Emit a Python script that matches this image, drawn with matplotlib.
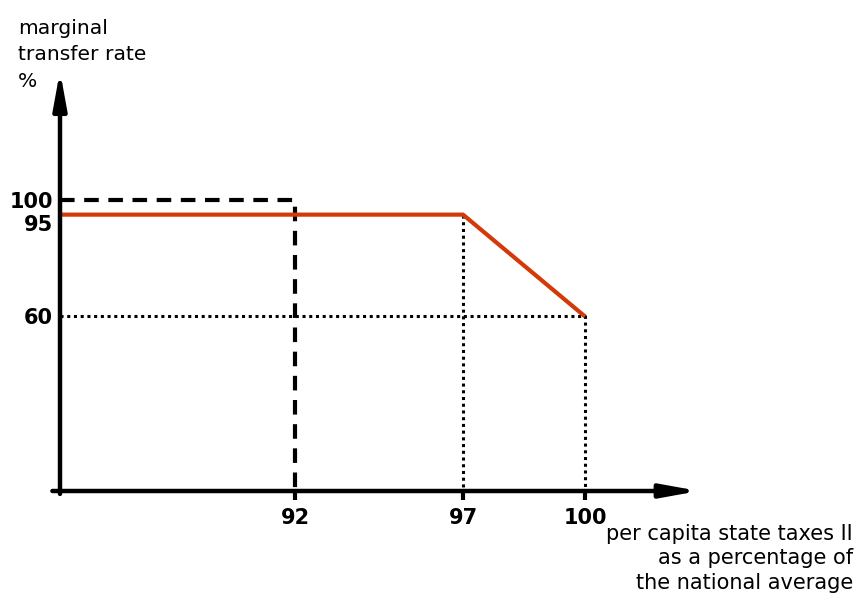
# plot.py
# Schematic of the marginal transfer rate vs per capita state taxes.

import numpy as np
import matplotlib.pyplot as plt
import matplotlib.transforms as mtransforms

# data
x_axis_start = 85          # where the y axis crosses the x axis (schematic)
x_axis_end = 102.7
y_axis_end = 143

rate_x = [85, 97, 100]     # red curve
rate_y = [95, 95, 60]

dashed_x = [85, 92, 92]    # 100% guide down to 92
dashed_y = [100, 100, 0]

dot_97_x = [97, 97]
dot_97_y = [95, 0]
dot_60_x = [85, 100, 100]
dot_60_y = [60, 60, 0]

x_ticks = [92, 97, 100]
y_ticks = [100, 95, 60]

# the reference axis is schematic, not evenly spaced
scale_data = [85, 92, 97, 100, 102.7]
scale_px = [0, 235, 403, 525, 635]


def forward(x):
    return np.interp(x, scale_data, scale_px)


def inverse(p):
    return np.interp(p, scale_px, scale_data)


W, H = 858, 610
fig = plt.figure(figsize=(W / 100, H / 100), dpi=100)
ax = fig.add_axes([60 / W, (H - 491) / H, 635 / W, (491 - 75) / H])
ax.set_xscale('function', functions=(forward, inverse))
ax.set_xlim(x_axis_start, x_axis_end)
ax.set_ylim(0, y_axis_end)

for s in ax.spines.values():
    s.set_visible(False)

red = '#d33a0a'
ax.plot(rate_x, rate_y, color=red, lw=3, solid_capstyle='butt', zorder=4)
ax.plot(dashed_x, dashed_y, color='black', lw=3, ls=(0, (3.5, 2.3)), zorder=3)
ax.plot(dot_97_x, dot_97_y, color='black', lw=2.2, ls=(0, (1, 1.2)), zorder=3)
ax.plot(dot_60_x, dot_60_y, color='black', lw=2.2, ls=(0, (1, 1.2)), zorder=3)

# axes with arrows
arrow = dict(arrowstyle='-|>,head_length=1.1,head_width=0.2', lw=3.2,
             color='black', shrinkA=0, shrinkB=0, mutation_scale=20)
ax.annotate('', xy=(1.006, 0), xytext=(-0.012, 0), xycoords='axes fraction',
            arrowprops=arrow, zorder=5)
ax.annotate('', xy=(0, 1.01), xytext=(0, -0.007), xycoords='axes fraction',
            arrowprops=arrow, zorder=5)

ax.set_xticks(x_ticks)
ax.set_xticklabels([str(v) for v in x_ticks], fontsize=15, fontweight='bold')
ax.set_yticks(y_ticks)
ax.set_yticklabels([str(v) for v in y_ticks], fontsize=15, fontweight='bold')
ax.tick_params(axis='x', direction='out', length=6.5, width=3, pad=5.5)
ax.tick_params(axis='y', length=0, pad=5)
ax.xaxis.set_minor_locator(plt.NullLocator())

# push "95" down so it does not sit on "100"
shift = mtransforms.ScaledTranslation(0, -6 / 72, fig.dpi_scale_trans)
for lab in ax.get_yticklabels():
    if lab.get_text() == '95':
        lab.set_transform(lab.get_transform() + shift)

fig.text(18 / W, 1 - 19 / H, 'marginal\ntransfer rate\n%', fontsize=14.6,
         ha='left', va='top', linespacing=1.5)
fig.text(853 / W, 1 - 524 / H,
         'per capita state taxes II\nas a percentage of\nthe national average',
         fontsize=15, ha='right', va='top', multialignment='right',
         linespacing=1.28)

fig.savefig('out.png', dpi=100)
